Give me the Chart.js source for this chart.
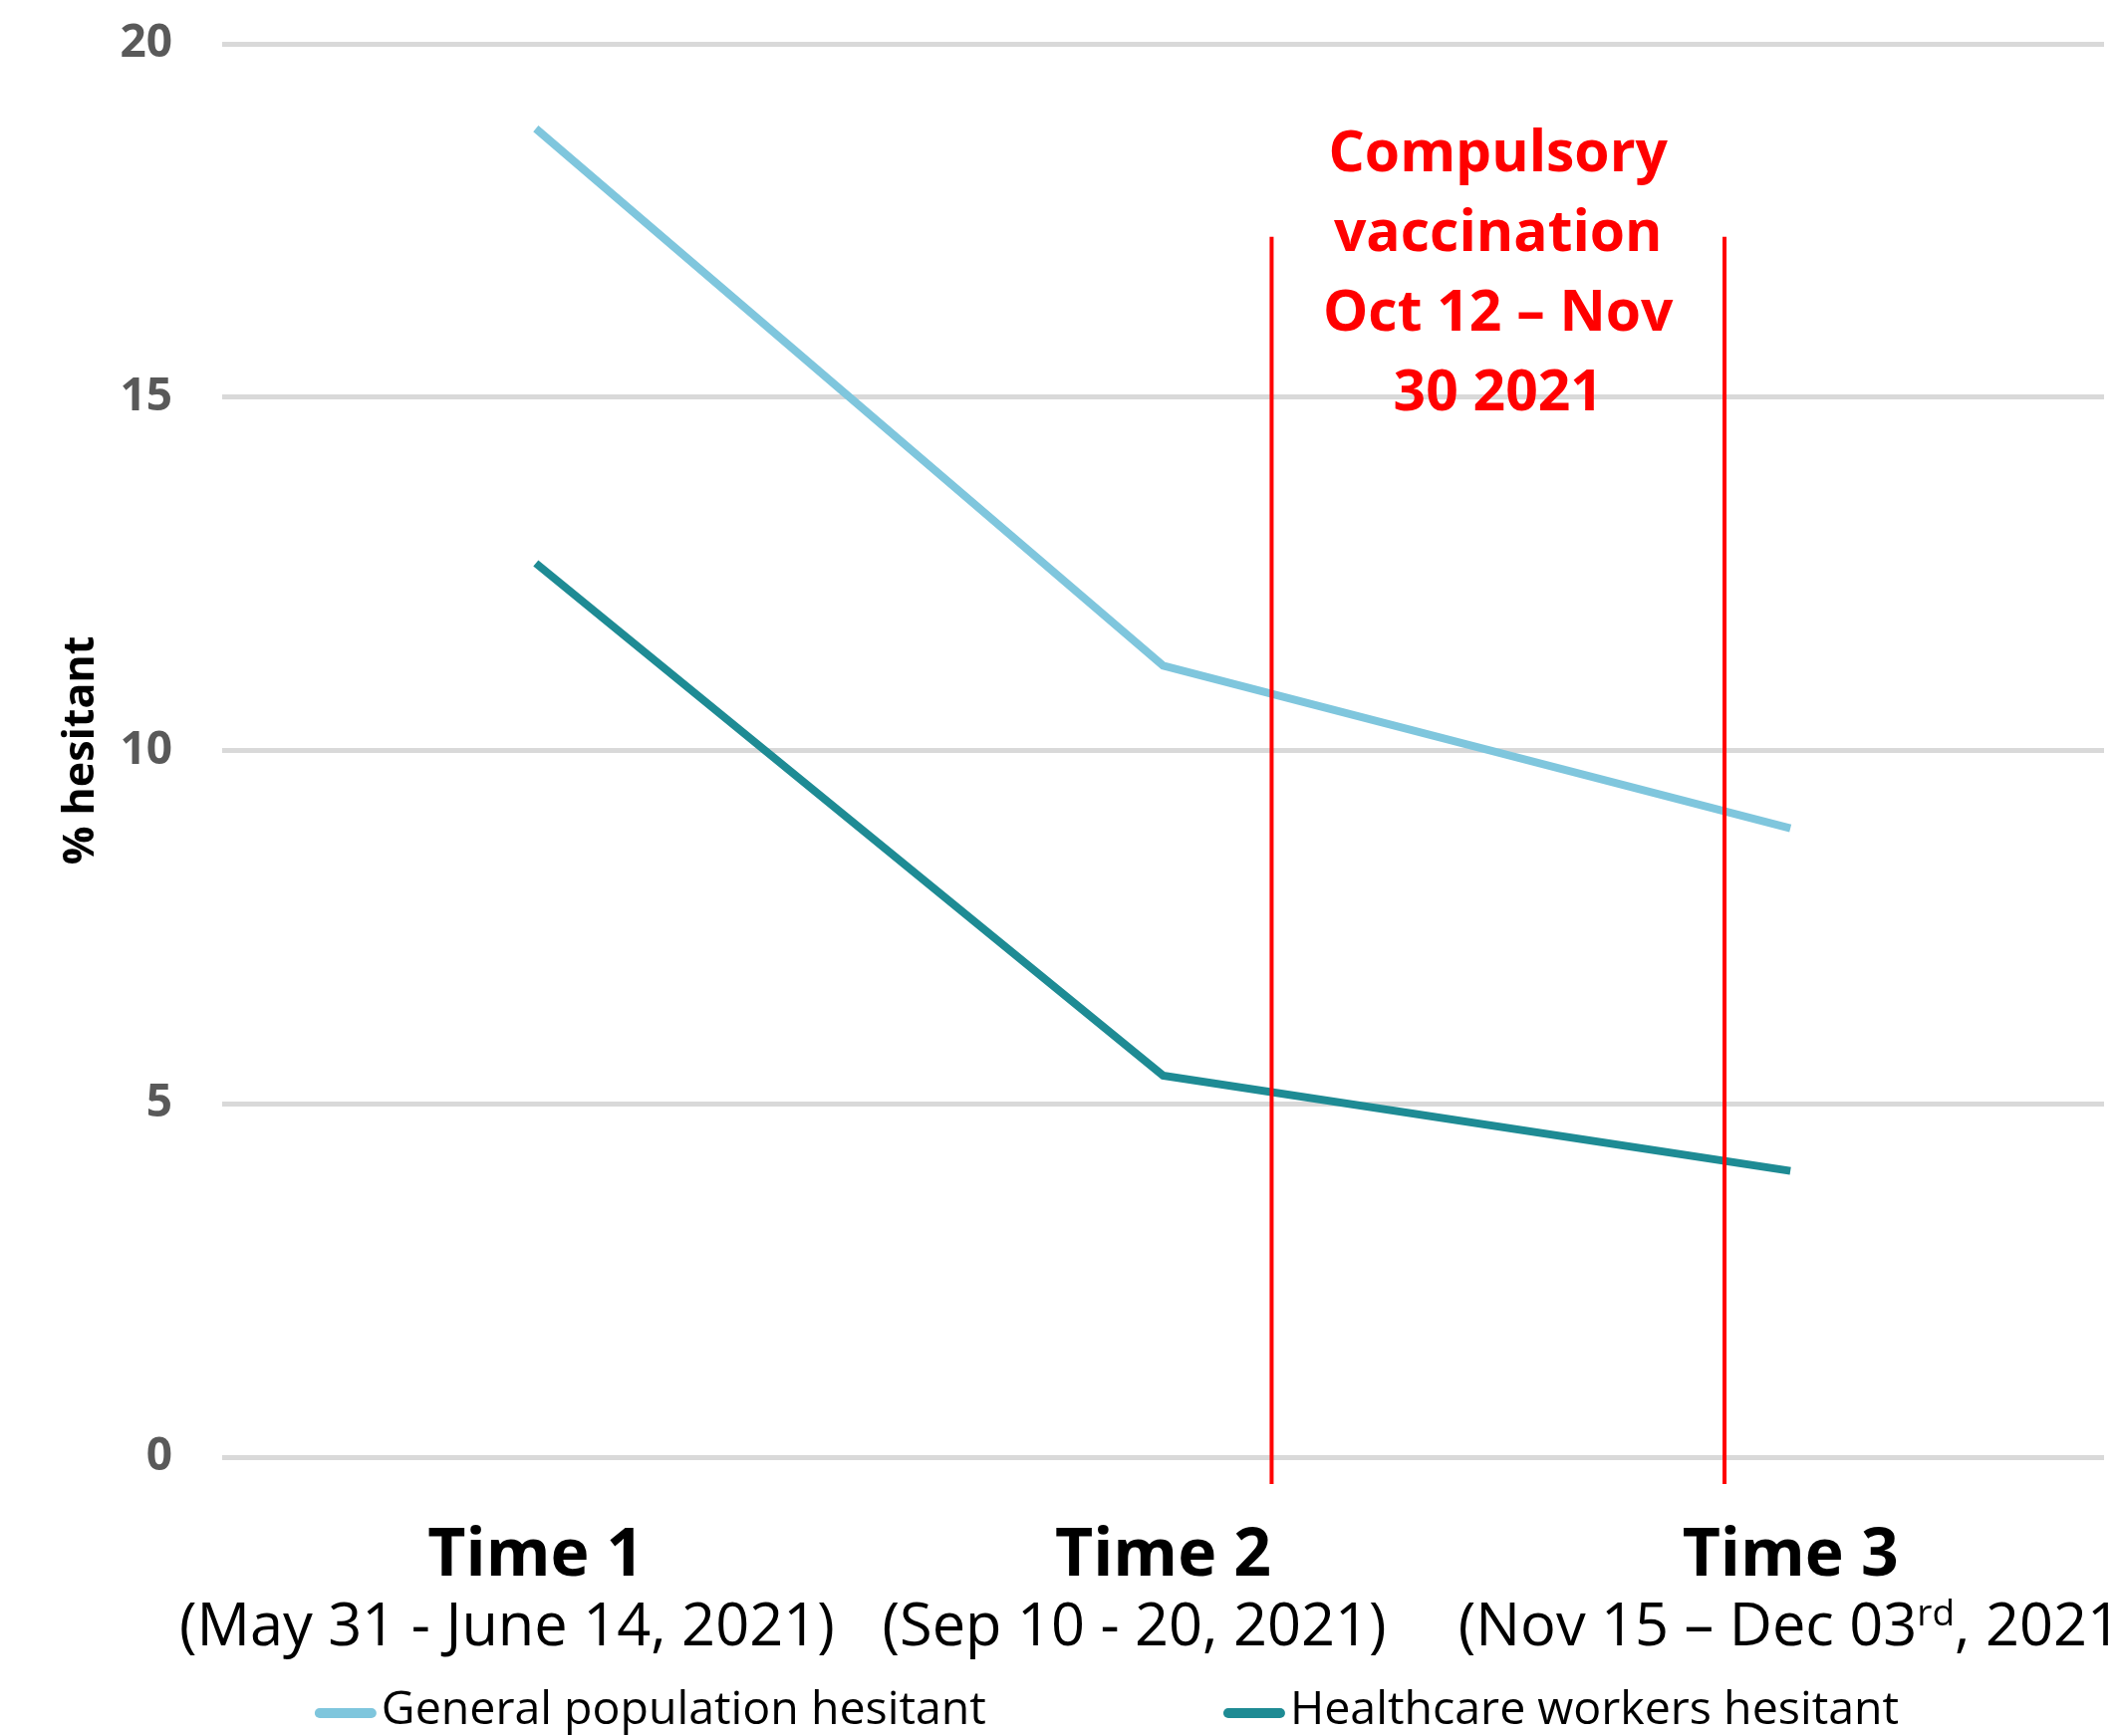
<!DOCTYPE html>
<html>
<head>
<meta charset="utf-8">
<script src="https://cdn.jsdelivr.net/npm/chart.js@4.4.0/dist/chart.umd.min.js"></script>
<style>
  html, body { margin: 0; padding: 0; background: #fff; }
  #wrap { width: 2123px; height: 1743px; }
</style>
</head>
<body>
<div id="wrap"><canvas id="chart" width="2123" height="1743"></canvas></div>
<script>
const timeLabels = ["Time 1", "Time 2", "Time 3"];
// {..} marks superscript text
const timeRanges = ["(May 31 - June 14, 2021)", "(Sep 10 - 20, 2021)", "(Nov 15 – Dec 03{rd}, 2021)"];
const generalHesitant = [18.8, 11.2, 8.9];
const healthcareHesitant = [12.65, 5.4, 4.05];
const yTicks = [0, 5, 10, 15, 20];
const mandateFrom = 1.173;   // category index of first red line
const mandateTo = 1.895;     // category index of second red line
const mandateTop = 17.27;
const mandateBottom = -0.38;
const mandateText = ["Compulsory", "vaccination", "Oct 12 – Nov", "30 2021"];

const FONT = "'Open Sans', 'Noto Sans', sans-serif";
const rangeShift = [-29, -29, 8];

const overlay = {
  id: "overlay",
  afterDatasetsDraw(chart) {
    const { ctx, scales: { x, y } } = chart;
    ctx.save();
    ctx.strokeStyle = "#ff0000";
    ctx.lineWidth = 4;
    [mandateFrom, mandateTo].forEach(v => {
      const px = x.getPixelForValue(v);
      ctx.beginPath();
      ctx.moveTo(px, y.getPixelForValue(mandateTop));
      ctx.lineTo(px, y.getPixelForValue(mandateBottom));
      ctx.stroke();
    });
    ctx.restore();
  },
  afterDraw(chart) {
    const { ctx, chartArea, scales: { x, y } } = chart;
    ctx.save();

    // red annotation
    ctx.fillStyle = "#ff0000";
    ctx.font = "bold 57px " + FONT;
    ctx.textAlign = "center";
    ctx.textBaseline = "alphabetic";
    const cx = (x.getPixelForValue(mandateFrom) + x.getPixelForValue(mandateTo)) / 2;
    let by = y.getPixelForValue(18.2);
    mandateText.forEach(t => { ctx.fillText(t, cx, by); by += 80; });

    // second line of x labels, with superscripts
    ctx.fillStyle = "#000";
    ctx.textAlign = "left";
    const base = 59.5, sup = 37;
    timeRanges.forEach((txt, i) => {
      const parts = txt.split(/\{(.*?)\}/);
      let w = 0;
      parts.forEach((p, k) => {
        ctx.font = (k % 2 ? sup : base) + "px " + FONT;
        w += ctx.measureText(p).width;
      });
      let px = x.getPixelForTick(i) + rangeShift[i] - w / 2;
      const py = chartArea.bottom + 189;
      parts.forEach((p, k) => {
        ctx.font = (k % 2 ? sup : base) + "px " + FONT;
        ctx.fillText(p, px, k % 2 ? py - 20 : py);
        px += ctx.measureText(p).width;
      });
    });

    // legend
    ctx.font = "46.5px " + FONT;
    const sw = 67, gapItem = 238;
    const items = chart.data.datasets.map(d => ({
      label: d.label, color: d.borderColor, w: sw + ctx.measureText(d.label).width
    }));
    const total = items.reduce((s, it) => s + it.w, 0) + gapItem * (items.length - 1);
    let lx = 1111 - total / 2;
    const ly = 1731;
    items.forEach(it => {
      ctx.strokeStyle = it.color;
      ctx.lineWidth = 10;
      ctx.lineCap = "round";
      ctx.beginPath();
      ctx.moveTo(lx + 5, ly - 11);
      ctx.lineTo(lx + 57, ly - 11);
      ctx.stroke();
      ctx.fillStyle = "#000";
      ctx.fillText(it.label, lx + sw, ly);
      lx += it.w + gapItem;
    });
    ctx.restore();
  }
};

new Chart(document.getElementById("chart"), {
  type: "line",
  data: {
    labels: timeLabels,
    datasets: [
      {
        label: "General population hesitant",
        data: generalHesitant,
        borderColor: "#7fc6dd",
        backgroundColor: "#7fc6dd",
        borderWidth: 8,
        pointRadius: 0,
        tension: 0
      },
      {
        label: "Healthcare workers hesitant",
        data: healthcareHesitant,
        borderColor: "#1e8b94",
        backgroundColor: "#1e8b94",
        borderWidth: 8,
        pointRadius: 0,
        tension: 0
      }
    ]
  },
  options: {
    responsive: false,
    animation: false,
    devicePixelRatio: 1,
    layout: { padding: { top: 44, right: 11, left: 0, bottom: 0 } },
    plugins: {
      legend: { display: false },
      tooltip: { enabled: false }
    },
    scales: {
      x: {
        offset: true,
        grid: { display: false, drawTicks: false },
        border: { display: false },
        ticks: {
          color: "#000",
          font: { family: FONT, weight: "bold", size: 66 },
          padding: 61,
          maxRotation: 0,
          autoSkip: false
        },
        afterFit: s => { s.height = 280; }
      },
      y: {
        min: 0,
        max: 20,
        afterBuildTicks: axis => { axis.ticks = yTicks.map(v => ({ value: v })); },
        grid: { color: "#d9d9d9", lineWidth: 5, drawTicks: false },
        border: { display: false },
        ticks: {
          color: "#595959",
          font: { family: FONT, weight: "bold", size: 46 },
          padding: 50
        },
        title: {
          display: true,
          text: "% hesitant",
          color: "#000",
          font: { family: FONT, weight: "bold", size: 43 },
          padding: { top: 56, bottom: 0 }
        },
        afterFit: s => {
          s.width = 223;
          s.paddingTop = 0;
          s.paddingBottom = 0;
        }
      }
    }
  },
  plugins: [overlay]
});
</script>
</body>
</html>
